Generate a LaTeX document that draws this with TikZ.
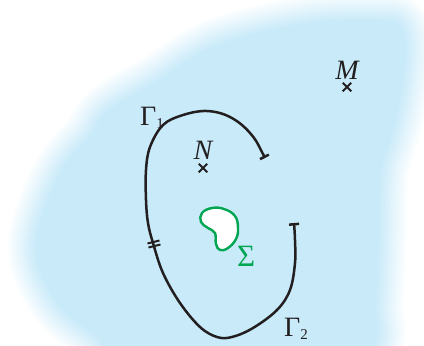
\documentclass[tikz,border=0pt]{standalone}
\usepackage{fontspec}
\setmainfont{Liberation Serif}
\usetikzlibrary{positioning,arrows.meta,shapes.misc}

\definecolor{regionblue}{HTML}{C8EAF9}
\definecolor{sigmagreen}{HTML}{00A651}
\definecolor{curveblack}{HTML}{231F20}

% inner edge of the shaded region (pixel units, y downwards)
\newcommand{\regionpath}{plot[smooth cycle, tension=0.6] coordinates {
  (309,25) (218,47) (158,83) (110,112) (91,138) (66,167) (44,215)
  (38,257) (60,303) (97,334) (135,362) (300,372) (370,346) (374,306)
  (377,240) (379,173) (388,140) (397,105) (404,50) (398,26) (378,22)}}
\newcommand{\gname}[2]{#1\raisebox{-0.3ex}{\fontsize{15}{17}\selectfont #2}}

\begin{document}
\begin{tikzpicture}[
  x=1pt, y=-1pt,
  gammaline/.style={draw=curveblack, line width=2.5pt,
    {Bar[width=10pt]}-{Bar[width=10pt]}},
  dtick/.style={draw=curveblack, line width=2pt},
  blob/.style={draw=sigmagreen, line width=2.4pt, fill=white},
  pt/.style={cross out, draw=curveblack, line width=2pt, minimum size=6.5pt,
    inner sep=0pt},
  ptlabel/.style={font=\fontsize{28}{32}\selectfont\itshape, text=curveblack,
    inner sep=0pt},
  glabel/.style={font=\fontsize{28}{32}\selectfont, text=curveblack,
    inner sep=0pt, anchor=base west},
]
\useasboundingbox (0,0) rectangle (424,346);
\clip (0,0) rectangle (424,346);

% ---- shaded region with a soft edge (about 30pt wide) ----
\foreach \h [evaluate=\h as \op using 1/\h, evaluate=\h as \lw using 3*\h]
    in {1,...,20}
  \draw[regionblue, line width=\lw pt, opacity=\op] \regionpath;
\fill[regionblue] \regionpath;

% ---- the set Sigma ----
\draw[blob] plot[smooth cycle, tension=0.7] coordinates {
  (202,213) (212,208) (224,209) (235,216) (238,228) (236,239) (228,248)
  (220,250) (216,244) (215,233) (208,228) (201,222)};
\node[glabel, text=sigmagreen, font=\fontsize{31}{34}\selectfont] (sigma)
  at (237,266) {Σ};

% ---- the path Gamma = Gamma_1 + Gamma_2 ----
\draw[gammaline] plot[smooth, tension=0.6] coordinates {
  (265,158) (250,133) (230,117) (207,111) (183,115) (163,125) (150,147)
  (146,170) (146,200) (148,223) (153,243) (163,273) (180,303) (200,327)
  (217,337) (232,337) (253,328) (277,310) (290,290) (295,263) (295,240)
  (294,223)};
\coordinate (dt) at (154,244);
\draw[dtick] ([shift={(-6.5,-0.5)}]dt) -- ++(12,-3);
\draw[dtick] ([shift={(-5.5,3.5)}]dt) -- ++(12,-3);

\node[glabel] (g1) at (140,125) {\gname{Γ}{1}};
\node[glabel] (g2) at (284,336) {\gname{Γ}{2}};

% ---- points ----
\node[pt] (M) at (347,87) {};
\node[ptlabel, above=3pt of M] (Mlabel) {M};
\node[pt] (N) at (203,168) {};
\node[ptlabel, above=4pt of N] (Nlabel) {N};

\end{tikzpicture}
\end{document}
